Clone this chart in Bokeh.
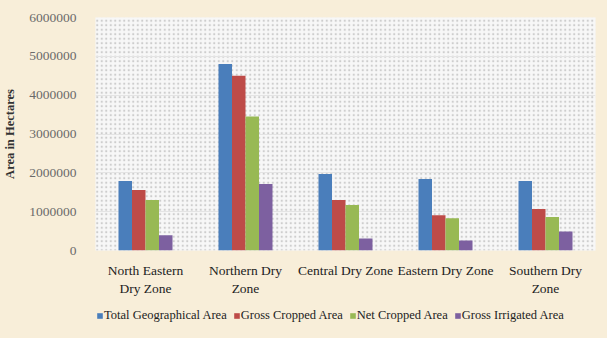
from bokeh.plotting import figure
from bokeh.layouts import column
from bokeh.models import ColumnDataSource, Legend, LegendItem, BoxAnnotation, BasicTickFormatter, FixedTicker
from bokeh.transform import dodge
from bokeh.embed import file_html
from bokeh.resources import INLINE

zones = ["North Eastern\nDry Zone", "Northern Dry\nZone", "Central Dry Zone", "Eastern Dry Zone", "Southern Dry\nZone"]
series = ["Total Geographical Area", "Gross Cropped Area", "Net Cropped Area", "Gross Irrigated Area"]
total_geo = [1790000, 4800000, 1970000, 1840000, 1790000]
gross_cropped = [1560000, 4500000, 1300000, 910000, 1070000]
net_cropped = [1300000, 3450000, 1170000, 830000, 860000]
gross_irrigated = [390000, 1710000, 310000, 260000, 490000]
colors = ["#4a7ebb", "#be4b48", "#98b954", "#7d60a0"]
y_ticks = [0, 1000000, 2000000, 3000000, 4000000, 5000000, 6000000]

src = ColumnDataSource(dict(zone=zones, s0=total_geo, s1=gross_cropped, s2=net_cropped, s3=gross_irrigated))

FONT = "Liberation Serif"
BEIGE = "#f8eed9"
p = figure(x_range=zones, y_range=(0, 6000000), width=607, height=298,
           output_backend="svg", toolbar_location=None,
           min_border_left=95, min_border_right=12, min_border_top=17, min_border_bottom=47)
p.border_fill_color = BEIGE
p.background_fill_color = "#f6f6f6"
p.outline_line_color = None

bg = BoxAnnotation(fill_color="#f7f7f7", fill_alpha=1.0, hatch_pattern=".", hatch_color="#c8c8c8",
                   hatch_scale=4.5, hatch_alpha=0.9, line_color=None, level="image")
p.add_layout(bg)

offsets = [-0.2025, -0.0675, 0.0675, 0.2025]
renderers = []
for i, (name, col) in enumerate(zip(series, colors)):
    r = p.vbar(x=dodge("zone", offsets[i], range=p.x_range), top="s%d" % i, width=0.135,
               source=src, fill_color=col, line_color=None)
    renderers.append(r)

p.yaxis.ticker = FixedTicker(ticks=y_ticks)
p.yaxis.formatter = BasicTickFormatter(use_scientific=False)
p.yaxis.axis_line_color = None
p.yaxis.major_tick_line_color = None
p.yaxis.minor_tick_line_color = None
p.yaxis.major_label_text_font = FONT
p.yaxis.major_label_text_font_size = "13.5px"
p.yaxis.major_label_text_color = "#6a6a6a"
p.yaxis.major_label_standoff = 13
p.yaxis.axis_label = "Area in Hectares"
p.yaxis.axis_label_text_font = FONT
p.yaxis.axis_label_text_font_style = "bold"
p.yaxis.axis_label_text_font_size = "12.5px"
p.yaxis.axis_label_text_color = "#333333"
p.yaxis.axis_label_standoff = 9

p.xaxis.axis_line_color = None
p.xaxis.major_tick_line_color = None
p.xaxis.minor_tick_line_color = None
p.xaxis.major_label_text_font = FONT
p.xaxis.major_label_text_font_size = "13.5px"
p.xaxis.major_label_text_color = "#222222"
p.xaxis.major_label_standoff = 6

p.xgrid.grid_line_color = None
p.ygrid.grid_line_color = "#e4e4e4"

# legend strip below the chart
lg = figure(width=607, height=40, x_range=(0, 1), y_range=(0, 1),
            output_backend="svg", toolbar_location=None,
            x_axis_location=None, y_axis_location=None,
            min_border_left=0, min_border_right=0, min_border_top=0, min_border_bottom=0)
lg.border_fill_color = BEIGE
lg.background_fill_color = BEIGE
lg.outline_line_color = None
lg.grid.visible = False
dummies = [lg.vbar(x=[5], top=[0], width=0.1, fill_color=c, line_color=None) for c in colors]
legend = Legend(items=[LegendItem(label=n, renderers=[r]) for n, r in zip(series, dummies)],
                orientation="horizontal", location=(1, 15),
                label_text_font=FONT, label_text_font_size="12.5px", label_text_color="#222222",
                glyph_width=7, glyph_height=7, label_standoff=1, spacing=6,
                background_fill_alpha=0, border_line_color=None, padding=0, margin=0)
lg.add_layout(legend)

layout = column(p, lg, spacing=0)
layout.styles = {"background-color": BEIGE}
open("out.html", "w").write(file_html(layout, INLINE))
